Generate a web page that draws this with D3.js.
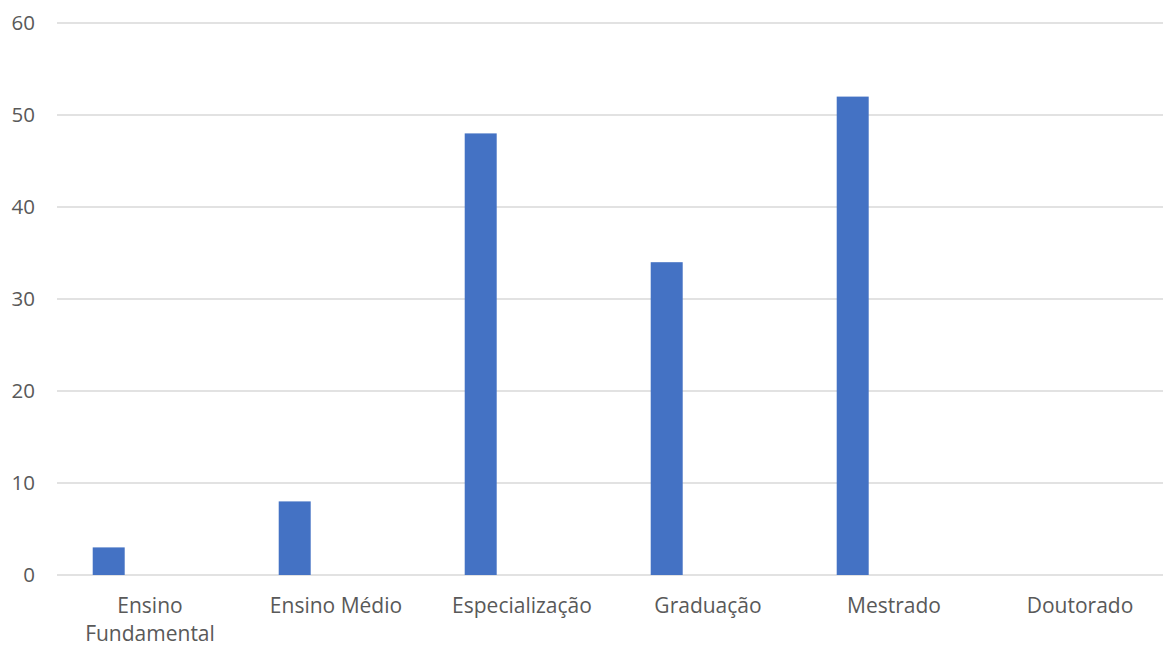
<!DOCTYPE html>
<html>
<head>
<meta charset="utf-8">
<script src="https://cdn.jsdelivr.net/npm/d3@7"></script>
<style>
  html, body { margin: 0; padding: 0; background: #fff; }
  svg { display: block; }
  text { font-family: "Open Sans", "Noto Sans", sans-serif; fill: #595959; }
</style>
</head>
<body>
<svg id="chart" width="1163" height="648"></svg>
<script>
// Escolaridade dos respondentes
const categories = [["Ensino", "Fundamental"], ["Ensino Médio"], ["Especialização"], ["Graduação"], ["Mestrado"], ["Doutorado"]];
const values = [3, 8, 48, 34, 52, 0];
const yTicks = [0, 10, 20, 30, 40, 50, 60];

const svg = d3.select("#chart");
const plotLeft = 57, plotRight = 1173, plotTop = 23, plotBottom = 575;

const keys = categories.map(c => c.join(" "));
const x = d3.scaleBand().domain(keys).range([plotLeft, plotRight]).padding(0);
const y = d3.scaleLinear().domain([0, 60]).range([plotBottom, plotTop]);

// gridlines
svg.append("g")
  .selectAll("line")
  .data(yTicks)
  .join("line")
  .attr("x1", plotLeft).attr("x2", plotRight)
  .attr("y1", d => y(d)).attr("y2", d => y(d))
  .attr("stroke", "#d9d9d9")
  .attr("stroke-width", 1.5);

// y tick labels
svg.append("g")
  .selectAll("text")
  .data(yTicks)
  .join("text")
  .attr("x", 35)
  .attr("y", d => y(d))
  .attr("dy", "0.35em")
  .attr("text-anchor", "end")
  .attr("font-size", 20.5)
  .text(d => d);

// bars
const bw = x.bandwidth();
svg.append("g")
  .selectAll("rect")
  .data(values)
  .join("rect")
  .attr("x", (d, i) => x(keys[i]) + bw * 0.192)
  .attr("width", bw * 0.172)
  .attr("y", d => y(d))
  .attr("height", d => y(0) - y(d))
  .attr("fill", "#4472c4");

// category labels
const lab = svg.append("g")
  .selectAll("text")
  .data(categories)
  .join("text")
  .attr("x", (d, i) => x(keys[i]) + bw / 2)
  .attr("y", 613)
  .attr("text-anchor", "middle")
  .attr("font-size", 21);
lab.selectAll("tspan")
  .data(d => d)
  .join("tspan")
  .attr("x", function () { return d3.select(this.parentNode).attr("x"); })
  .attr("dy", (d, i) => i === 0 ? 0 : 28)
  .text(d => d);
</script>
</body>
</html>
